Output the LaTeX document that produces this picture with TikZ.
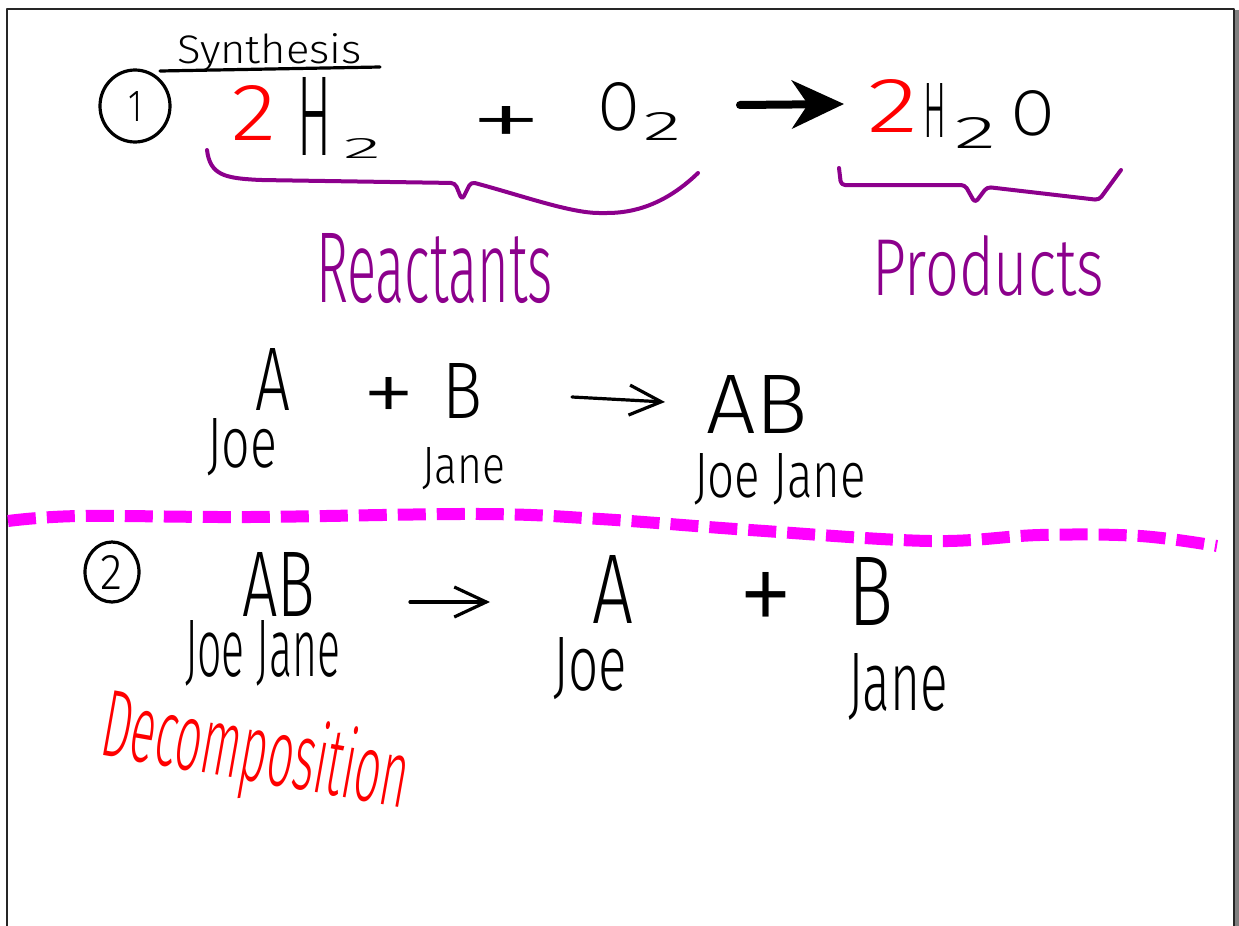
\documentclass[tikz,border=0pt]{standalone}
\usepackage{fontspec}
\setmainfont{Fira Sans}[UprightFont={* Light}]
\usepackage{graphicx}
\usetikzlibrary{shapes.geometric,arrows.meta}
\newlength\pxu \setlength\pxu{0.5pt}
\newcommand\fitx[3]{\resizebox{#1\pxu}{#2\pxu}{#3}}
\definecolor{inkpurple}{RGB}{140,0,140}
\definecolor{inkmag}{RGB}{255,0,255}
\definecolor{inkred}{RGB}{255,0,0}
\begin{document}
\begin{tikzpicture}[x=0.5pt,y=-0.5pt,line cap=round,line join=round,
  ink/.style={line width=1.6pt},
  txt/.style={anchor=base west,inner sep=0pt,outer sep=0pt},
  ctxt/.style={anchor=center,inner sep=0pt,outer sep=0pt},
  circ/.style={ellipse,draw,line width=1.6pt,inner sep=0pt},
  brace/.style={line width=2pt,inkpurple,rounded corners=2pt},
  thinarrow/.style={line width=1.6pt,-{Straight Barb[length=16pt,width=15pt]}},
  bigarrow/.style={line width=4pt,-{Stealth[length=26pt,width=24pt,inset=8pt]}},
  divider/.style={inkmag,line width=6pt,line cap=butt,dash pattern=on 14pt off 5.5pt}]
\useasboundingbox (0,0) rectangle (1239,926);
\fill[white] (0,0) rectangle (1239,926);
% frame
\draw[line width=1.2pt,black!85,line cap=butt] (7,926) -- (7,9) -- (1234,9) -- (1234,926);
\draw[line width=2.5pt,gray,line cap=butt] (1237,10) -- (1237,926);

% ---- synthesis ----
\node[txt] (syn) at (177,63) {\fitx{185}{30}{Synthesis}};
\draw[ink] (160,71) -- (380,67);
\node[circ,minimum width=35pt,minimum height=36pt] (c1) at (135,106) {\fitx{14}{30}{1}};
\node[txt,text=inkred] (r2a) at (231,140) {\fitx{45}{55}{2}};
\node[txt] (h2a) at (297,155) {\fitx{34}{78}{H}};
\node[txt] (h2asub) at (343,158) {\fitx{38}{20}{2}};
\node[ctxt] (plus1) at (506,126) {\fitx{74}{40}{+}};
\node[txt] (o2) at (598,130) {\fitx{41}{48}{O}};
\node[txt] (o2sub) at (643,140) {\fitx{38}{28}{2}};
\coordinate (a1s) at (740,105);
\coordinate (a1e) at (844,104);
\draw[bigarrow] (a1s) -- (a1e);
\node[txt,text=inkred] (r2b) at (867,133) {\fitx{51}{53}{2}};
\node[txt] (h2b) at (923,137) {\fitx{23}{54}{H}};
\node[txt] (h2bsub) at (954,148) {\fitx{42}{31}{2}};
\node[txt] (ob) at (1011,135) {\fitx{43}{45}{O}};

\draw[brace] (207,150) .. controls (210,175) and (225,178) .. (260,180) -- (455,183) -- (462,200) -- (471,182)
  .. controls (520,195) and (570,213) .. (603,213) .. controls (640,213) and (670,200) .. (698,173);
\draw[brace] (839,168) -- (841,185) -- (965,185) -- (975,203) -- (987,187) -- (1099,200) -- (1121,170);
\node[txt,text=inkpurple] (react) at (316,302) {\fitx{237}{69}{Reactants}};
\node[txt,text=inkpurple] (prod) at (872,295) {\fitx{232}{60}{Products}};

% ---- A + B -> AB ----
\node[txt] (A1) at (255,410) {\fitx{35}{62}{A}};
\node[txt] (joe1) at (207,467) {\fitx{70}{49}{Joe}};
\node[ctxt] (plus2) at (389,400) {\fitx{53}{46}{+}};
\node[txt] (B1) at (442,418) {\fitx{40}{55}{B}};
\node[txt] (jane1) at (422,483) {\fitx{83}{36}{Jane}};
\coordinate (a2s) at (572,397);
\coordinate (a2e) at (665,402);
\draw[thinarrow] (a2s) -- (a2e);
\node[txt] (AB1) at (706,433) {\fitx{102}{58}{AB}};
\node[txt] (jj1) at (694,497) {\fitx{172}{44}{Joe Jane}};

% ---- divider ----
\draw[divider] plot[smooth,tension=0.6] coordinates {(8,521) (80,516) (250,517) (480,514) (600,519) (750,530) (930,541) (1040,535) (1140,536) (1217,546)};

% ---- decomposition ----
\node[circ,minimum width=27pt,minimum height=30pt] (c2) at (112,572) {\fitx{22}{34}{2}};
\node[txt] (AB2) at (242,616) {\fitx{73}{64}{AB}};
\node[txt] (jj2) at (185,676) {\fitx{155}{56}{Joe Jane}};
\coordinate (a3s) at (410,602);
\coordinate (a3e) at (490,602);
\draw[thinarrow] (a3s) -- (a3e);
\node[txt] (A2) at (592,623) {\fitx{41}{68}{A}};
\node[txt] (joe2) at (553,690) {\fitx{74}{53}{Joe}};
\node[ctxt] (plus3) at (766,604) {\fitx{55}{64}{+}};
\node[txt] (B2) at (848,625) {\fitx{45}{68}{B}};
\node[txt] (jane2) at (848,710) {\fitx{100}{57}{Jane}};
\node[txt,text=inkred,rotate=-10] (decomp) at (98,754) {\fitx{310}{72}{Decomposition}};
\end{tikzpicture}
\end{document}
